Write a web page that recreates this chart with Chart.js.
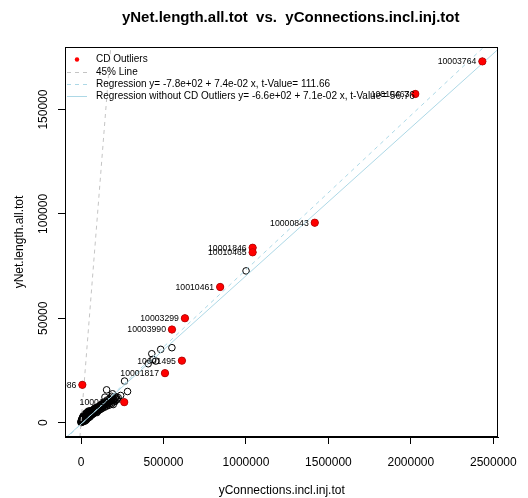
<!DOCTYPE html>
<html>
<head>
<meta charset="utf-8">
<script src="https://cdn.jsdelivr.net/npm/chart.js@4/dist/chart.umd.min.js"></script>
<style>
  html, body { margin: 0; padding: 0; background: #fff; }
  canvas { display: block; }
</style>
</head>
<body>
<canvas id="chart" width="528" height="498"></canvas>
<script>
const FONT = '"Liberation Sans", Arial, Helvetica, sans-serif';

// Sites: connections (x) against total net length (y)
const siteConn = [
  0, 500, 1200, 2000, 2500, 3100, 3800, 4200, 5000, 5600, 6300, 7000, 7800, 8500, 9200, 10000,
  10800, 11500, 12300, 13000, 14000, 15200, 16000, 17000, 18200, 19000, 20500, 21300, 22400,
  23500, 24600, 25800, 26500, 27800, 28600, 29500,
  31000, 32500, 33800, 35000, 36200, 37500, 38700, 40000, 41500, 42800, 44000, 45300, 46800,
  48000, 49500, 51000, 52300, 53800, 55000, 56500, 58000, 59400, 61000, 62300, 63800, 65000,
  66500, 68000, 69500, 71000, 72500, 74000, 75500, 77000, 78500, 80000, 81500, 83000, 84500,
  86000, 87500, 89000, 90500, 92000, 93500, 95000, 96500, 98000, 99500,
  101000, 103000, 105000, 107000, 109000, 111000, 113000, 115000, 117000, 119000, 121000,
  123000, 125000, 127000, 129000, 131000, 134000, 137000, 140000, 143000, 146000, 149000,
  152000, 155000, 158000, 161000, 165000, 169000, 173000, 177000, 181000, 185000, 190000,
  195000, 200000, 205000, 212000, 218000, 225000,
  1500, 3500, 6800, 9800, 14800, 18800, 24000, 27200, 30200, 34400, 39200, 43500, 47400,
  50200, 54400, 57200, 60300, 64400, 67200, 70300, 73200, 76300, 79200, 82200, 85200, 88300,
  91200, 94300, 97200, 100200, 104000, 108000, 112000, 116000, 120000, 124000, 128000,
  132000, 136000, 139000, 142000, 148000, 154000, 160000, 167000, 172000, 179000, 188000,
  198000, 208000,
  145000, 155000, 175000, 185000, 191000, 195000, 219000, 240000, 264000, 282000,
  407000, 429000, 435000, 453000, 483000, 551000, 1000600
];
const siteLen = [
  0, 300, 150, 900, 400, 1300, 200, 700, 1600, 500, 1100, 2100, 800, 1500, 300, 2600,
  1200, 700, 1900, 3100, 1000, 2300, 1500, 3500, 600, 2000, 2900, 1200, 3900,
  1700, 2500, 800, 3300, 4300, 1900, 2800,
  3600, 1300, 4700, 2400, 3000, 4800, 1900, 3900, 2800, 4400, 5500, 2300, 3400,
  4900, 3000, 5500, 3800, 2700, 4500, 5600, 3300, 5000, 4100, 5600, 3600, 5400,
  4600, 5900, 3900, 5700, 5000, 6200, 4300, 6000, 5300, 4600, 6800, 5600, 6400,
  4900, 7100, 5900, 6700, 5200, 7000, 6200, 4800, 7000, 5500,
  7400, 6500, 7400, 5800, 7900, 6900, 7800, 6200, 8400, 7200, 8200,
  6600, 8800, 7600, 8600, 7000, 9300, 8000, 9000, 7400, 10000, 8400,
  9400, 7900, 10800, 8800, 9800, 8300, 11300, 9300, 10400, 8900, 11900,
  9900, 11000, 10400, 12400, 10900, 12000,
  600, 1000, 1400, 1800, 2000, 2600, 1900, 3000, 2200, 3200, 3300, 3600, 3900,
  3500, 4100, 4300, 4600, 4300, 5000, 4800, 5300, 5100, 5700, 5300, 5800, 5500,
  6200, 5900, 6300, 6400, 6800, 7100, 7200, 7400, 7800, 8000, 8100,
  8500, 8500, 8900, 9100, 9000, 9600, 9600, 10000, 10200, 10500, 10700,
  11200, 11800,
  12200, 15700, 10600, 12600, 13800, 8650, 11400, 13000, 19900, 14900,
  28200, 33000, 30300, 29500, 35100, 35900, 72700
];

// Cook's distance outliers
const outlierIds = [
  '10003764', '10010463', '10000843', '10001846', '10010465', '10010461',
  '10003299', '10003990', '10001495', '10001817', '10002086', '10001796'
];
const outlierConn = [2433600, 2027200, 1417300, 1040500, 1040500, 843600, 630000, 551300, 611700, 509000, 8000, 262000];
const outlierLen  = [173100, 157500, 95800, 83800, 81600, 65000, 50000, 44600, 29700, 23700, 18100, 9800];

// Axes
const xTicks = [0, 500000, 1000000, 1500000, 2000000, 2500000];
const yTicks = [0, 50000, 100000, 150000];
const xLimits = [-97300, 2531000];
const yLimits = [-6900, 180000];

// Fitted lines
const fitAll   = { intercept: -780, slope: 0.074 };
const fitClean = { intercept: -660, slope: 0.071 };

const allPoints = siteConn.map((v, i) => ({ x: v, y: siteLen[i] }))
  .concat(outlierConn.map((v, i) => ({ x: v, y: outlierLen[i] })));
const outlierPoints = outlierConn.map((v, i) => ({ x: v, y: outlierLen[i] }));
const fitLine = f => xLimits.map(v => ({ x: v, y: f.intercept + f.slope * v }));
const identityLine = yLimits.map(v => ({ x: v, y: v }));

const frame = {
  id: 'frame',
  afterDatasetsDraw(chart) {
    const { ctx, chartArea: a, scales: { x, y } } = chart;

    // point labels, kept inside the plot region
    ctx.save();
    ctx.beginPath();
    ctx.rect(a.left, a.top, a.right - a.left, a.bottom - a.top);
    ctx.clip();
    ctx.font = `8.7px ${FONT}`;
    ctx.fillStyle = '#000';
    ctx.textAlign = 'right';
    ctx.textBaseline = 'middle';
    outlierIds.forEach((id, i) => {
      ctx.fillText(id, x.getPixelForValue(outlierConn[i]) - 6, y.getPixelForValue(outlierLen[i]) + 0.5);
    });
    ctx.restore();

    // legend
    const ds = chart.data.datasets;
    const rows = [ds[0], ds[1], ds[2], ds[3]];
    ctx.save();
    ctx.font = `10px ${FONT}`;
    ctx.textAlign = 'left';
    ctx.textBaseline = 'middle';
    rows.forEach((d, i) => {
      const ry = 59.5 + i * 12.3;
      if (i === 0) {
        ctx.fillStyle = d.backgroundColor;
        ctx.beginPath();
        ctx.arc(77, ry, 2.2, 0, Math.PI * 2);
        ctx.fill();
      } else {
        ctx.strokeStyle = d.borderColor;
        ctx.lineWidth = 1;
        ctx.setLineDash(d.borderDash || []);
        ctx.beginPath();
        ctx.moveTo(67, Math.round(ry) + 0.5);
        ctx.lineTo(87, Math.round(ry) + 0.5);
        ctx.stroke();
        ctx.setLineDash([]);
      }
      ctx.fillStyle = '#000';
      ctx.fillText(d.label, 96, ry);
    });
    ctx.restore();
  },
  afterDraw(chart) {
    const { ctx, chartArea: a, scales: { y } } = chart;
    ctx.save();
    ctx.strokeStyle = '#000';
    ctx.lineWidth = 1;
    ctx.strokeRect(Math.round(a.left) + 0.5, Math.round(a.top) + 0.5,
      Math.round(a.right - a.left) - 1, Math.round(a.bottom - a.top) - 1);

    ctx.fillStyle = '#000';
    ctx.textAlign = 'center';
    ctx.textBaseline = 'middle';
    ctx.font = `12px ${FONT}`;
    yTicks.forEach(v => {
      ctx.save();
      ctx.translate(44, y.getPixelForValue(v));
      ctx.rotate(-Math.PI / 2);
      ctx.fillText(String(v), 0, 0);
      ctx.restore();
    });

    const cx = (a.left + a.right) / 2;
    ctx.fillText('yConnections.incl.inj.tot', cx, 491);
    ctx.save();
    ctx.translate(20, (a.top + a.bottom) / 2);
    ctx.rotate(-Math.PI / 2);
    ctx.fillText('yNet.length.all.tot', 0, 0);
    ctx.restore();

    ctx.font = `bold 15px ${FONT}`;
    ctx.fillText('yNet.length.all.tot  vs.  yConnections.incl.inj.tot', cx + 9, 18);
    ctx.restore();
  }
};

new Chart(document.getElementById('chart'), {
  type: 'scatter',
  data: {
    datasets: [
      {
        label: 'CD Outliers',
        data: outlierPoints,
        backgroundColor: '#ff0000',
        borderColor: '#b00000',
        borderWidth: 0.6,
        pointRadius: 3.7,
        order: 0
      },
      {
        type: 'line',
        label: '45% Line',
        data: identityLine,
        borderColor: '#c4c4c4',
        borderWidth: 1,
        borderDash: [4, 4],
        pointRadius: 0,
        fill: false,
        clip: 0,
        order: 3
      },
      {
        type: 'line',
        label: 'Regression y= -7.8e+02 + 7.4e-02 x, t-Value= 111.66',
        data: fitLine(fitAll),
        borderColor: '#add8e6',
        borderWidth: 1,
        borderDash: [4, 4],
        pointRadius: 0,
        fill: false,
        clip: 0,
        order: 2
      },
      {
        type: 'line',
        label: 'Regression without CD Outliers y= -6.6e+02 + 7.1e-02 x, t-Value= 56.76',
        data: fitLine(fitClean),
        borderColor: '#add8e6',
        borderWidth: 1,
        pointRadius: 0,
        fill: false,
        clip: 0,
        order: 1
      },
      {
        label: 'sites',
        data: allPoints,
        backgroundColor: 'rgba(0,0,0,0)',
        borderColor: '#000',
        borderWidth: 1,
        pointRadius: 3.3,
        order: 4
      }
    ]
  },
  options: {
    responsive: false,
    animation: false,
    devicePixelRatio: 1,
    events: [],
    layout: { padding: { top: 47, right: 28, bottom: 0, left: 0 } },
    plugins: { legend: { display: false }, tooltip: { enabled: false }, title: { display: false } },
    scales: {
      x: {
        type: 'linear',
        position: 'bottom',
        min: xLimits[0],
        max: xLimits[1],
        afterBuildTicks: s => { s.ticks = xTicks.map(v => ({ value: v })); },
        afterFit: s => { s.height = 61; },
        grid: { drawOnChartArea: false, drawTicks: true, tickLength: 7, color: '#000', lineWidth: 1 },
        border: { display: true, color: '#000', width: 1 },
        ticks: {
          color: '#000',
          font: { family: FONT, size: 12 },
          padding: 11,
          maxRotation: 0,
          autoSkip: false,
          callback: v => String(v)
        }
      },
      y: {
        type: 'linear',
        position: 'left',
        min: yLimits[0],
        max: yLimits[1],
        afterBuildTicks: s => { s.ticks = yTicks.map(v => ({ value: v })); },
        afterFit: s => { s.width = 65; },
        grid: { drawOnChartArea: false, drawTicks: true, tickLength: 7, color: '#000', lineWidth: 1 },
        border: { display: true, color: '#000', width: 1 },
        ticks: { display: false }
      }
    }
  },
  plugins: [frame]
});
</script>
</body>
</html>
